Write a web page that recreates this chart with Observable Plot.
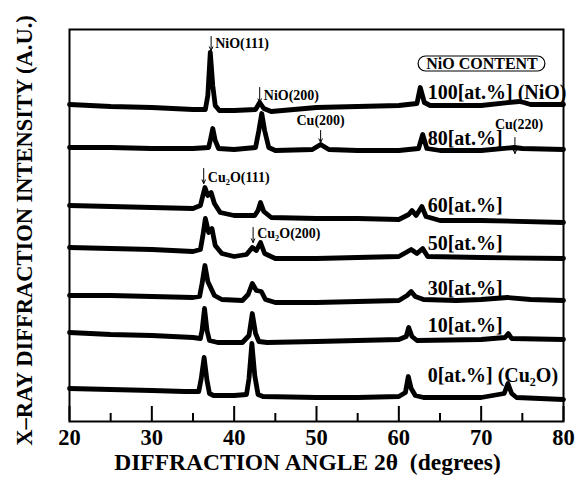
<!DOCTYPE html>
<html>
<head>
<meta charset="utf-8">
<script src="https://cdn.jsdelivr.net/npm/d3@7"></script>
<script src="https://cdn.jsdelivr.net/npm/@observablehq/plot@0.6"></script>
<style>
  html, body { margin: 0; padding: 0; background: #fff; }
</style>
</head>
<body>
<div id="chart"></div>
<script>
// ---- Data (2θ in degrees, intensity in arbitrary units, traces stacked) ----
const labels = ["0[at.%] (Cu₂O)", "10[at.%]", "30[at.%]", "50[at.%]", "60[at.%]", "80[at.%]", "100[at.%] (NiO)"];
const labelY = [46, 96, 133, 178, 216, 283, 329];

const trace0 = [[20,33],[25,32],[30,31],[34,30],[35.7,30],[36.0,43],[36.35,64],[36.7,41],[37.0,28],[37.5,26],[40,26],[41.5,27],[41.8,43],[42.15,78],[42.5,46],[42.9,27],[43.5,25],[50,24],[55,24],[60,25],[60.8,29],[61.15,45],[61.5,33],[62,26],[63,24],[70,24],[72.8,28],[73.25,38],[73.7,28],[74.3,24],[80,22]];
const trace10 = [[20,89],[25,87],[30,86],[35,84],[35.9,83],[36.1,91],[36.4,113],[36.7,91],[37.0,81],[38,79],[41,79],[41.8,86],[42.2,108],[42.6,88],[43.0,80],[44,79],[50,80],[55,81],[60,82],[60.9,85],[61.2,94],[61.6,85],[62.2,81],[70,82],[72.9,84],[73.3,88],[73.7,83],[80,82]];
const trace30 = [[20,126],[25,126],[30,125],[35,124],[35.8,125],[36.1,138],[36.45,156],[36.8,140],[37.2,133],[37.6,126],[38.5,122],[41,121],[41.7,127],[42.2,138],[42.7,131],[43.3,130],[43.8,122],[45,119],[50,119],[55,120],[60,121],[61,126],[61.5,130],[62,125],[63,122],[67,121],[70,122],[73.2,124],[76,122],[80,121]];
const trace50 = [[20,174],[25,173],[30,172],[35,170],[35.9,172],[36.2,186],[36.5,203],[36.9,189],[37.3,193],[37.7,176],[38.5,168],[40,165],[41.5,167],[42.2,174],[42.7,171],[43.2,179],[43.7,168],[45,163],[50,163],[55,164],[60,165],[61.5,172],[62.2,168],[62.9,173],[63.5,165],[70,164],[80,163]];
const trace60 = [[20,216],[25,215],[30,214],[35,213],[35.9,216],[36.2,226],[36.45,234],[36.8,226],[37.2,229],[37.6,218],[38.3,209],[40,206],[42.5,206],[42.9,211],[43.2,219],[43.6,210],[44.5,204],[50,203],[55,203],[60,202],[61.2,207],[61.6,211],[62.1,206],[62.8,215],[63.3,205],[65,201],[70,201],[80,199]];
const trace80 = [[20,274],[25,274],[30,273],[35,273],[36.9,274],[37.15,283],[37.4,293],[37.7,281],[38.1,273],[40,272],[42.6,274],[43.0,291],[43.35,308],[43.7,291],[44.2,274],[45,271],[49.5,272],[50.5,277],[51.5,272],[55,271],[60,271],[62.4,273],[62.9,287],[63.4,273],[65,271],[70,271],[74,274],[75,273],[80,272]];
const trace100 = [[20,317],[25,315],[30,314],[35,312],[36.5,312],[36.8,326],[37.1,369],[37.4,336],[37.7,316],[38.2,311],[40,311],[42.6,312],[43.1,319],[43.6,313],[44.5,310],[50,314],[55,315],[60,316],[62.2,318],[62.6,334],[63.1,319],[63.8,316],[70,316],[74.6,320],[75.2,319],[76,317],[80,317]];
const traces = [trace0, trace10, trace30, trace50, trace60, trace80, trace100];

// peak annotations: text, arrow x, arrow top y, arrow bottom y, text x, text y, anchor
const annText   = ["NiO(111)", "NiO(200)", "Cu(200)", "Cu(220)", "Cu₂O(111)", "Cu₂O(200)"];
const annArrowX = [37.2, 43.1, 50.5, 74.1, 36.3, 42.3];
const annArrowY1 = [385, 334, 291, 284, 253, 194];
const annArrowY2 = [371, 319, 279, 268, 238, 179];
const annTextX  = [37.7, 43.6, 50.5, 74.6, 36.8, 42.8];
const annTextY  = [378, 326, 301, 297, 244, 188];
const annAnchor = ["start", "start", "middle", "middle", "start", "start"];

const majorTicks = [20, 30, 40, 50, 60, 70, 80];
const minorTicks = [25, 35, 45, 55, 65, 75];

// ---- Build tables ----
const rows = traces.flatMap((t, i) => t.map(([x, y]) => ({x, y, id: labels[i]})));
const labelRows = labels.map((l, i) => ({text: l, x: 63.5, y: labelY[i]}));
const ann = annText.map((t, i) => ({
  text: t, ax: annArrowX[i], ay1: annArrowY1[i], ay2: annArrowY2[i],
  tx: annTextX[i], ty: annTextY[i], anchor: annAnchor[i]
}));

const serif = "'Liberation Serif', 'Times New Roman', serif";

const chart = Plot.plot({
  width: 575,
  height: 482,
  marginLeft: 69,
  marginRight: 12,
  marginTop: 29,
  marginBottom: 61,
  style: {fontFamily: serif, fontWeight: "bold", color: "#000", background: "#fff"},
  x: {domain: [20, 80]},
  y: {domain: [0, 392], axis: null},
  marks: [
    Plot.line(rows, {x: "x", y: "y", z: "id", stroke: "#000", strokeWidth: 4.8, strokeLinejoin: "round"}),
    Plot.ruleX(majorTicks, {y1: 0, y2: 15, stroke: "#000", strokeWidth: 2}),
    Plot.ruleX(minorTicks, {y1: 0, y2: 8, stroke: "#000", strokeWidth: 2}),
    Plot.frame({stroke: "#000", strokeWidth: 2}),
    Plot.axisX(majorTicks, {tickSize: 0, tickPadding: 8, fontSize: 22.5, fontWeight: "bold", label: null, tickFormat: d => String(d)}),
    Plot.text(labelRows, {x: "x", y: "y", text: "text", textAnchor: "start", fontSize: 20, fontWeight: "bold", fill: "#000"}),
    Plot.arrow(ann, {x1: "ax", x2: "ax", y1: "ay1", y2: "ay2", stroke: "#000", strokeWidth: 1, headLength: 6, headAngle: 50}),
    Plot.text(ann.filter(d => d.anchor === "start"), {x: "tx", y: "ty", text: "text", textAnchor: "start", fontSize: 14, fontWeight: "bold", fill: "#000"}),
    Plot.text(ann.filter(d => d.anchor === "middle"), {x: "tx", y: "ty", text: "text", textAnchor: "middle", fontSize: 14, fontWeight: "bold", fill: "#000"}),
    Plot.rect([{x1: 62.4, x2: 77.8, y1: 350, y2: 365}], {x1: "x1", x2: "x2", y1: "y1", y2: "y2", fill: "none", stroke: "#000", strokeWidth: 1.2, rx: 7.5}),
    Plot.text(["NiO CONTENT"], {x: [70.1], y: [357.5], text: d => d, fontSize: 16, fontWeight: "bold", fill: "#000"}),
    Plot.text(["DIFFRACTION ANGLE 2θ  (degrees)"], {frameAnchor: "bottom", dy: 48, dx: -9, fontSize: 23.5, fontWeight: "bold", fill: "#000"}),
    Plot.text(["X–RAY DIFFRACTION INTENSITY (A.U.)"], {frameAnchor: "left", rotate: -90, textAnchor: "middle", dx: -45, dy: 5, fontSize: 22.5, fontWeight: "bold", fill: "#000"})
  ]
});
document.getElementById("chart").appendChild(chart);
</script>
</body>
</html>
